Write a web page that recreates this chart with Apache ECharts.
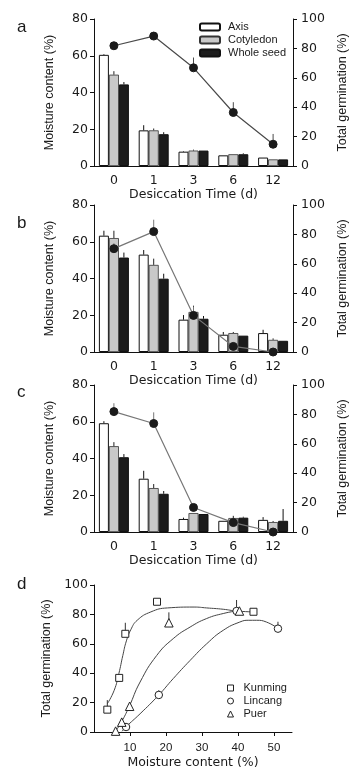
<!DOCTYPE html>
<html><head><meta charset="utf-8">
<script src="https://cdn.jsdelivr.net/npm/echarts@6/dist/echarts.min.js"></script>
<style>html,body{margin:0;padding:0;background:#fff}#c{width:356px;height:770px}</style>
</head><body><div id="c"></div>
<script>
// ---- data ----
const categories = ['0','1','3','6','12'];
const legendBars = ['Axis','Cotyledon','Whole seed'];
// panel a
const aAxis = [60.5, 19.4, 7.8, 5.8, 4.6];      const aAxisErr = [0.4, 2.8, 0.3, 0, 0];
const aCot = [49.7, 19.4, 8.4, 6.4, 3.6];       const aCotErr = [1.9, 1.0, 0.5, 0, 0];
const aWhole = [44.4, 17.3, 8.4, 6.4, 3.6];     const aWholeErr = [1.3, 1.1, 0, 0.5, 0];
const aGerm = [81.8, 88.4, 66.8, 36.4, 14.8];   const aGermErr = [0, 2.5, 7, 7, 7];
// panel b
const bAxis = [63.3, 53.0, 17.6, 9.4, 10.3];    const bAxisErr = [2.7, 2.5, 2.5, 1.5, 1.8];
const bCot = [62.0, 47.4, 21.8, 10.3, 6.6];     const bCotErr = [4.0, 3.4, 3.4, 0.6, 0.8];
const bWhole = [51.4, 39.9, 18.1, 8.9, 6.1];    const bWholeErr = [2.7, 2.7, 1.5, 0, 0];
const bGerm = [70.3, 81.9, 24.9, 3.8, 0];       const bGermErr = [3.7, 8.1, 6, 0, 0];
// panel c
const cAxis = [59.2, 29.0, 7.1, 6.1, 6.6];      const cAxisErr = [1.1, 4.3, 0.7, 0, 1.5];
const cCot = [46.7, 23.9, 10.3, 7.6, 5.4];      const cCotErr = [2.2, 2.2, 0, 1.2, 0.6];
const cWhole = [40.7, 20.8, 9.8, 7.8, 6.1];     const cWholeErr = [1.7, 1.5, 0, 0.5, 6.4];
const cGerm = [81.9, 73.8, 16.7, 6.4, 0];       const cGermErr = [5.7, 7.6, 0, 2, 0];
// panel d: [moisture %, germination %, error]
const kunming = [[3.7, 15.2, 6.5], [7.0, 36.8, 0], [8.7, 66.8, 7.5], [17.5, 88.6, 0], [44.3, 81.8, 0]];
const lincang = [[8.9, 3.4, 0], [18.0, 25.2, 3.2], [39.6, 82.3, 7.5], [51.1, 70.3, 4.7]];
const puer = [[6.0, 0.6, 0], [7.7, 6.7, 0], [9.9, 17.5, 0], [20.8, 74.3, 7.1], [40.4, 82.3, 0]];
const kunmingCurve = [[3.7,19.2],[5.6,28.3],[6.9,39.7],[8.0,52],[9.0,62],[10.2,69.5],[12,76],[15.8,81.7],[20.4,84.4],[27.8,85],[31.3,84.4],[35.9,83.5],[39.6,82.3],[44.3,81.7]];
const puerCurve = [[6,0.5],[7.6,6.7],[9.7,16.9],[12.8,34],[17.4,52],[22,63.5],[26.7,71.4],[31.3,77.2],[35.9,80.6],[40.1,82.6]];
const lincangCurve = [[7.8,0.5],[8.8,3.3],[12.8,12.4],[17.9,24.9],[22,36.3],[26.7,48.7],[31.3,60],[35.9,69.2],[40.5,74.8],[43,76],[45.1,76],[47.9,74.8],[51.2,70.3]];
const dXTicks = [10, 20, 30, 40, 50];

// ---- build ----
const FONT = 'Liberation Sans, Arial, sans-serif';
const WIDE = 'DejaVu Sans, sans-serif';
const TXT = '#1a1a1a';
const panels = [
  {axis:aAxis, axisE:aAxisErr, cot:aCot, cotE:aCotErr, whole:aWhole, wholeE:aWholeErr, germ:aGerm, germE:aGermErr, top:19, lineColor:'#4a4a4a'},
  {axis:bAxis, axisE:bAxisErr, cot:bCot, cotE:bCotErr, whole:bWhole, wholeE:bWholeErr, germ:bGerm, germE:bGermErr, top:205, lineColor:'#777'},
  {axis:cAxis, axisE:cAxisErr, cot:cCot, cotE:cCotErr, whole:cWhole, wholeE:cWholeErr, germ:cGerm, germE:cGermErr, top:385, lineColor:'#777'}
];
const grids = [], xAxes = [], yAxes = [], series = [];
const axisLine = {show:true, lineStyle:{color:'#111', width:1}};
const tick = {show:true, length:4, lineStyle:{color:'#111'}};
const yLbl = {color:TXT, fontSize:12.5, fontFamily:WIDE};
const xLbl = {color:TXT, fontSize:12.5, fontFamily:WIDE};
const xName = {color:TXT, fontSize:12.5, fontFamily:WIDE};
const yName = {color:TXT, fontSize:12.5, fontFamily:FONT};

function errSeries(xi, yi, vals, errs, offset, color) {
  const data = [];
  vals.forEach((v, i) => { if (errs[i] > 0) data.push([i, v, v + errs[i]]); });
  return {type:'custom', xAxisIndex:xi, yAxisIndex:yi, z:5, silent:true, data,
    renderItem:(p, api) => {
      const p0 = api.coord([api.value(0), api.value(1)]);
      const p1 = api.coord([api.value(0), api.value(2)]);
      return {type:'line', shape:{x1:p0[0]+offset, y1:p0[1], x2:p1[0]+offset, y2:p1[1]}, style:{stroke:color, lineWidth:1}};
    }};
}

panels.forEach((P, k) => {
  grids.push({left:94, top:P.top, width:199, height:147});
  xAxes.push({type:'category', gridIndex:k, data:categories, axisLine, axisTick:{show:false},
    axisLabel:Object.assign({margin:8}, xLbl), name:'Desiccation Time (d)', nameLocation:'middle', nameGap:22, nameTextStyle:xName});
  yAxes.push({type:'value', gridIndex:k, min:0, max:80, interval:20, position:'left', splitLine:{show:false}, axisLine, axisTick:tick,
    axisLabel:Object.assign({margin:6}, yLbl), name:'Moisture content (%)', nameLocation:'middle', nameGap:38, nameTextStyle:yName});
  yAxes.push({type:'value', gridIndex:k, min:0, max:100, interval:20, position:'right', splitLine:{show:false}, axisLine, axisTick:tick,
    axisLabel:Object.assign({margin:8}, yLbl), name:'Total germination (%)', nameLocation:'middle', nameGap:40, nameTextStyle:yName});
  const yL = 2*k, yR = 2*k+1;
  const barCommon = {type:'bar', xAxisIndex:k, yAxisIndex:yL, barWidth:10, barGap:'0%'};
  series.push(Object.assign({name:'Axis', data:P.axis, itemStyle:{color:'#ffffff', borderColor:'#111', borderWidth:1}}, barCommon));
  series.push(Object.assign({name:'Cotyledon', data:P.cot, itemStyle:{color:'#c9c9c9', borderColor:'#333', borderWidth:0.8}}, barCommon));
  series.push(Object.assign({name:'Whole seed', data:P.whole, itemStyle:{color:'#1c1c1c', borderColor:'#111', borderWidth:1}}, barCommon));
  series.push(errSeries(k, yL, P.axis, P.axisE, -10, '#111'));
  series.push(errSeries(k, yL, P.cot, P.cotE, 0, '#222'));
  series.push(errSeries(k, yL, P.whole, P.wholeE, 10, '#111'));
  series.push(errSeries(k, yR, P.germ, P.germE, 0, P.lineColor));
  series.push({type:'line', name:'germ'+k, xAxisIndex:k, yAxisIndex:yR, data:P.germ, z:6, symbol:'circle', symbolSize:8,
    lineStyle:{color:P.lineColor, width:1.2}, itemStyle:{color:'#1a1a1a', borderColor:'#1a1a1a'}});
});

// panel d
grids.push({left:94, top:585, width:198, height:147});
xAxes.push({type:'value', gridIndex:3, min:0, max:55, interval:10, splitLine:{show:false}, axisLine,
  axisTick:{show:true, length:4, lineStyle:{color:'#111'}, customValues:dXTicks},
  axisLabel:{margin:10, customValues:dXTicks, color:TXT, fontSize:11.5, fontFamily:FONT},
  name:'Moisture content (%)', nameLocation:'middle', nameGap:24, nameTextStyle:xName});
yAxes.push({type:'value', gridIndex:3, min:0, max:100, interval:20, splitLine:{show:false}, axisLine, axisTick:tick,
  axisLabel:Object.assign({margin:6}, yLbl), name:'Total germination (%)', nameLocation:'middle', nameGap:37, nameTextStyle:yName});
const dX = 3, dY = 6;
function curve(name, pts) {
  return {type:'line', name, xAxisIndex:dX, yAxisIndex:dY, data:pts, smooth:0.5, showSymbol:false, symbol:'none', silent:true,
    lineStyle:{color:'#444', width:1}, z:2};
}
function pts(name, arr, sym, size) {
  return {type:'scatter', name, xAxisIndex:dX, yAxisIndex:dY, data:arr.map(d => [d[0], d[1]]), symbol:sym, symbolSize:size, z:4,
    itemStyle:{color:'#fff', borderColor:'#222', borderWidth:1, opacity:1}};
}
function dErr(arr) {
  return {type:'custom', xAxisIndex:dX, yAxisIndex:dY, z:3, silent:true, data:arr.filter(d => d[2] > 0).map(d => [d[0], d[1], d[1] + d[2]]),
    renderItem:(p, api) => {
      const p0 = api.coord([api.value(0), api.value(1)]);
      const p1 = api.coord([api.value(0), api.value(2)]);
      return {type:'line', shape:{x1:p0[0], y1:p0[1], x2:p1[0], y2:p1[1]}, style:{stroke:'#333', lineWidth:1}};
    }};
}
series.push(curve('kc', kunmingCurve), curve('pc', puerCurve), curve('lc', lincangCurve));
series.push(dErr(kunming), dErr(lincang), dErr(puer));
series.push(pts('Kunming', kunming, 'rect', 7), pts('Lincang', lincang, 'circle', 7.5), pts('Puer', puer, 'triangle', 8.5));

const letters = [['a',19],['b',215],['c',384],['d',576]];
const option = {
  animation:false,
  textStyle:{fontFamily:FONT},
  title: letters.map(l => ({text:l[0], left:17, top:l[1], padding:0, textStyle:{fontSize:17, fontWeight:'normal', color:TXT, fontFamily:FONT}})),
  legend:[
    {data:legendBars, orient:'vertical', left:199, top:21, padding:0, itemGap:1, itemWidth:20, itemHeight:7, selectedMode:false,
      textStyle:{fontSize:11, color:TXT, fontFamily:FONT, padding:[0,0,0,3], lineHeight:12}},
    {data:['Kunming','Lincang','Puer'], orient:'vertical', left:227, top:682, padding:0, itemGap:1, itemWidth:6, itemHeight:6, selectedMode:false,
      itemStyle:{borderWidth:1},
      textStyle:{fontSize:11, color:TXT, fontFamily:FONT, padding:[0,0,0,5], lineHeight:12}}
  ],
  grid:grids, xAxis:xAxes, yAxis:yAxes, series
};
grids.forEach(g => { g.outerBoundsMode = 'none'; g.containLabel = false; });
const chart = echarts.init(document.getElementById('c'), null, {renderer:'canvas'});
chart.setOption(option);
</script></body></html>
